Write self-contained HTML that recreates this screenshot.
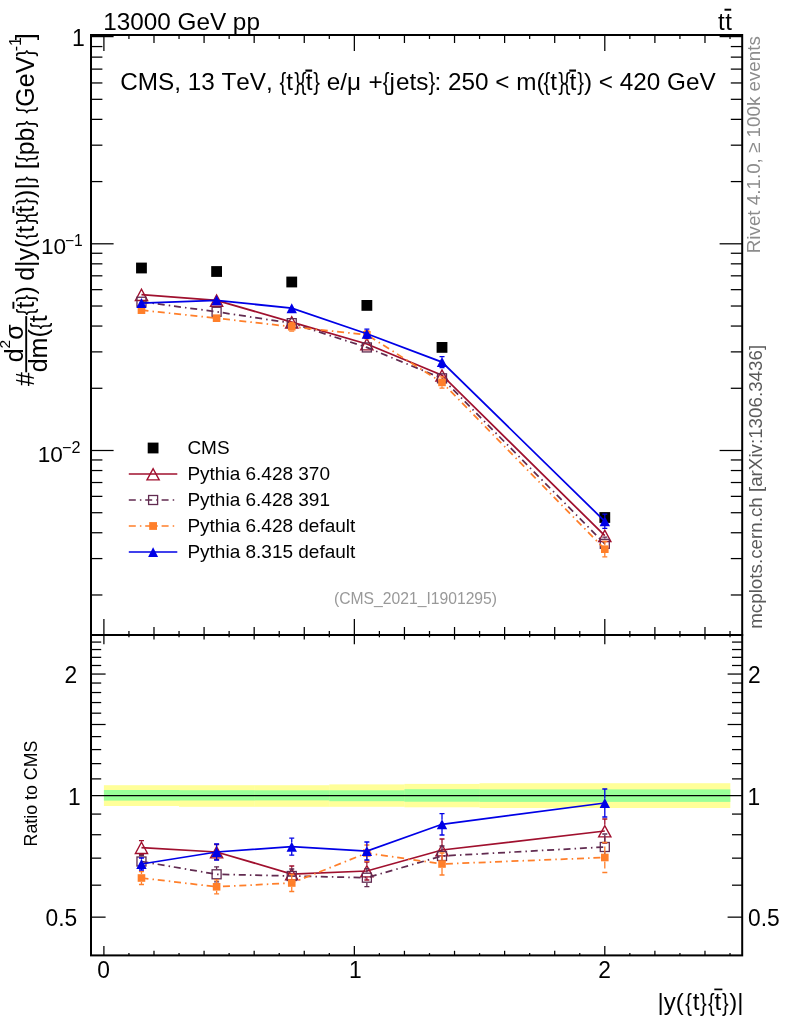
<!DOCTYPE html>
<html lang="en"><head><meta charset="utf-8"><title>CMS ttbar plot</title>
<style>html,body{margin:0;padding:0;background:#fff}svg{display:block}text{font-family:"Liberation Sans", "DejaVu Sans", sans-serif;}</style></head><body>
<svg width="786" height="1024" viewBox="0 0 786 1024">
<rect x="0" y="0" width="786" height="1024" fill="#fff"/>
<rect x="103.90" y="785.2" width="75.43" height="20.80" fill="#FFFF99"/>
<rect x="179.03" y="785.2" width="75.43" height="21.60" fill="#FFFF99"/>
<rect x="254.17" y="785.2" width="75.44" height="21.60" fill="#FFFF99"/>
<rect x="329.31" y="784.4" width="75.43" height="22.40" fill="#FFFF99"/>
<rect x="404.44" y="783.9" width="75.43" height="23.40" fill="#FFFF99"/>
<rect x="479.57" y="783.2" width="250.75" height="24.80" fill="#FFFF99"/>
<rect x="103.90" y="790.0" width="75.43" height="10.60" fill="#99FF99"/>
<rect x="179.03" y="790.2" width="75.43" height="10.30" fill="#99FF99"/>
<rect x="254.17" y="790.3" width="75.44" height="10.10" fill="#99FF99"/>
<rect x="329.31" y="790.3" width="75.43" height="10.90" fill="#99FF99"/>
<rect x="404.44" y="789.2" width="75.43" height="12.50" fill="#99FF99"/>
<rect x="479.57" y="789.4" width="250.75" height="12.50" fill="#99FF99"/>
<line x1="91.00" y1="795.60" x2="742.20" y2="795.60" stroke="#000" stroke-width="1.4" />
<rect x="91.0" y="35.0" width="651.2" height="600.0" fill="none" stroke="#000" stroke-width="2"/>
<rect x="91.0" y="635.0" width="651.2" height="320.4" fill="none" stroke="#000" stroke-width="2"/>
<line x1="91.00" y1="36.60" x2="113.60" y2="36.60" stroke="#000" stroke-width="1.25" />
<line x1="742.20" y1="36.60" x2="719.60" y2="36.60" stroke="#000" stroke-width="1.25" />
<line x1="91.00" y1="243.80" x2="113.60" y2="243.80" stroke="#000" stroke-width="1.25" />
<line x1="742.20" y1="243.80" x2="719.60" y2="243.80" stroke="#000" stroke-width="1.25" />
<line x1="91.00" y1="181.58" x2="102.40" y2="181.58" stroke="#000" stroke-width="1.25" />
<line x1="742.20" y1="181.58" x2="730.80" y2="181.58" stroke="#000" stroke-width="1.25" />
<line x1="91.00" y1="145.18" x2="102.40" y2="145.18" stroke="#000" stroke-width="1.25" />
<line x1="742.20" y1="145.18" x2="730.80" y2="145.18" stroke="#000" stroke-width="1.25" />
<line x1="91.00" y1="119.35" x2="102.40" y2="119.35" stroke="#000" stroke-width="1.25" />
<line x1="742.20" y1="119.35" x2="730.80" y2="119.35" stroke="#000" stroke-width="1.25" />
<line x1="91.00" y1="99.32" x2="102.40" y2="99.32" stroke="#000" stroke-width="1.25" />
<line x1="742.20" y1="99.32" x2="730.80" y2="99.32" stroke="#000" stroke-width="1.25" />
<line x1="91.00" y1="82.96" x2="102.40" y2="82.96" stroke="#000" stroke-width="1.25" />
<line x1="742.20" y1="82.96" x2="730.80" y2="82.96" stroke="#000" stroke-width="1.25" />
<line x1="91.00" y1="69.12" x2="102.40" y2="69.12" stroke="#000" stroke-width="1.25" />
<line x1="742.20" y1="69.12" x2="730.80" y2="69.12" stroke="#000" stroke-width="1.25" />
<line x1="91.00" y1="57.13" x2="102.40" y2="57.13" stroke="#000" stroke-width="1.25" />
<line x1="742.20" y1="57.13" x2="730.80" y2="57.13" stroke="#000" stroke-width="1.25" />
<line x1="91.00" y1="46.56" x2="102.40" y2="46.56" stroke="#000" stroke-width="1.25" />
<line x1="742.20" y1="46.56" x2="730.80" y2="46.56" stroke="#000" stroke-width="1.25" />
<line x1="91.00" y1="450.50" x2="113.60" y2="450.50" stroke="#000" stroke-width="1.25" />
<line x1="742.20" y1="450.50" x2="719.60" y2="450.50" stroke="#000" stroke-width="1.25" />
<line x1="91.00" y1="388.28" x2="102.40" y2="388.28" stroke="#000" stroke-width="1.25" />
<line x1="742.20" y1="388.28" x2="730.80" y2="388.28" stroke="#000" stroke-width="1.25" />
<line x1="91.00" y1="351.88" x2="102.40" y2="351.88" stroke="#000" stroke-width="1.25" />
<line x1="742.20" y1="351.88" x2="730.80" y2="351.88" stroke="#000" stroke-width="1.25" />
<line x1="91.00" y1="326.05" x2="102.40" y2="326.05" stroke="#000" stroke-width="1.25" />
<line x1="742.20" y1="326.05" x2="730.80" y2="326.05" stroke="#000" stroke-width="1.25" />
<line x1="91.00" y1="306.02" x2="102.40" y2="306.02" stroke="#000" stroke-width="1.25" />
<line x1="742.20" y1="306.02" x2="730.80" y2="306.02" stroke="#000" stroke-width="1.25" />
<line x1="91.00" y1="289.66" x2="102.40" y2="289.66" stroke="#000" stroke-width="1.25" />
<line x1="742.20" y1="289.66" x2="730.80" y2="289.66" stroke="#000" stroke-width="1.25" />
<line x1="91.00" y1="275.82" x2="102.40" y2="275.82" stroke="#000" stroke-width="1.25" />
<line x1="742.20" y1="275.82" x2="730.80" y2="275.82" stroke="#000" stroke-width="1.25" />
<line x1="91.00" y1="263.83" x2="102.40" y2="263.83" stroke="#000" stroke-width="1.25" />
<line x1="742.20" y1="263.83" x2="730.80" y2="263.83" stroke="#000" stroke-width="1.25" />
<line x1="91.00" y1="253.26" x2="102.40" y2="253.26" stroke="#000" stroke-width="1.25" />
<line x1="742.20" y1="253.26" x2="730.80" y2="253.26" stroke="#000" stroke-width="1.25" />
<line x1="91.00" y1="594.98" x2="102.40" y2="594.98" stroke="#000" stroke-width="1.25" />
<line x1="742.20" y1="594.98" x2="730.80" y2="594.98" stroke="#000" stroke-width="1.25" />
<line x1="91.00" y1="558.58" x2="102.40" y2="558.58" stroke="#000" stroke-width="1.25" />
<line x1="742.20" y1="558.58" x2="730.80" y2="558.58" stroke="#000" stroke-width="1.25" />
<line x1="91.00" y1="532.75" x2="102.40" y2="532.75" stroke="#000" stroke-width="1.25" />
<line x1="742.20" y1="532.75" x2="730.80" y2="532.75" stroke="#000" stroke-width="1.25" />
<line x1="91.00" y1="512.72" x2="102.40" y2="512.72" stroke="#000" stroke-width="1.25" />
<line x1="742.20" y1="512.72" x2="730.80" y2="512.72" stroke="#000" stroke-width="1.25" />
<line x1="91.00" y1="496.36" x2="102.40" y2="496.36" stroke="#000" stroke-width="1.25" />
<line x1="742.20" y1="496.36" x2="730.80" y2="496.36" stroke="#000" stroke-width="1.25" />
<line x1="91.00" y1="482.52" x2="102.40" y2="482.52" stroke="#000" stroke-width="1.25" />
<line x1="742.20" y1="482.52" x2="730.80" y2="482.52" stroke="#000" stroke-width="1.25" />
<line x1="91.00" y1="470.53" x2="102.40" y2="470.53" stroke="#000" stroke-width="1.25" />
<line x1="742.20" y1="470.53" x2="730.80" y2="470.53" stroke="#000" stroke-width="1.25" />
<line x1="91.00" y1="459.96" x2="102.40" y2="459.96" stroke="#000" stroke-width="1.25" />
<line x1="742.20" y1="459.96" x2="730.80" y2="459.96" stroke="#000" stroke-width="1.25" />
<line x1="103.90" y1="35.00" x2="103.90" y2="51.00" stroke="#000" stroke-width="1.25" />
<line x1="103.90" y1="619.00" x2="103.90" y2="644.30" stroke="#000" stroke-width="1.25" />
<line x1="103.90" y1="955.40" x2="103.90" y2="946.10" stroke="#000" stroke-width="1.25" />
<line x1="128.94" y1="35.00" x2="128.94" y2="39.00" stroke="#000" stroke-width="1.25" />
<line x1="128.94" y1="631.00" x2="128.94" y2="637.30" stroke="#000" stroke-width="1.25" />
<line x1="128.94" y1="955.40" x2="128.94" y2="953.10" stroke="#000" stroke-width="1.25" />
<line x1="153.99" y1="35.00" x2="153.99" y2="43.00" stroke="#000" stroke-width="1.25" />
<line x1="153.99" y1="627.00" x2="153.99" y2="639.60" stroke="#000" stroke-width="1.25" />
<line x1="153.99" y1="955.40" x2="153.99" y2="950.80" stroke="#000" stroke-width="1.25" />
<line x1="179.04" y1="35.00" x2="179.04" y2="39.00" stroke="#000" stroke-width="1.25" />
<line x1="179.04" y1="631.00" x2="179.04" y2="637.30" stroke="#000" stroke-width="1.25" />
<line x1="179.04" y1="955.40" x2="179.04" y2="953.10" stroke="#000" stroke-width="1.25" />
<line x1="204.08" y1="35.00" x2="204.08" y2="43.00" stroke="#000" stroke-width="1.25" />
<line x1="204.08" y1="627.00" x2="204.08" y2="639.60" stroke="#000" stroke-width="1.25" />
<line x1="204.08" y1="955.40" x2="204.08" y2="950.80" stroke="#000" stroke-width="1.25" />
<line x1="229.12" y1="35.00" x2="229.12" y2="39.00" stroke="#000" stroke-width="1.25" />
<line x1="229.12" y1="631.00" x2="229.12" y2="637.30" stroke="#000" stroke-width="1.25" />
<line x1="229.12" y1="955.40" x2="229.12" y2="953.10" stroke="#000" stroke-width="1.25" />
<line x1="254.17" y1="35.00" x2="254.17" y2="43.00" stroke="#000" stroke-width="1.25" />
<line x1="254.17" y1="627.00" x2="254.17" y2="639.60" stroke="#000" stroke-width="1.25" />
<line x1="254.17" y1="955.40" x2="254.17" y2="950.80" stroke="#000" stroke-width="1.25" />
<line x1="279.22" y1="35.00" x2="279.22" y2="39.00" stroke="#000" stroke-width="1.25" />
<line x1="279.22" y1="631.00" x2="279.22" y2="637.30" stroke="#000" stroke-width="1.25" />
<line x1="279.22" y1="955.40" x2="279.22" y2="953.10" stroke="#000" stroke-width="1.25" />
<line x1="304.26" y1="35.00" x2="304.26" y2="43.00" stroke="#000" stroke-width="1.25" />
<line x1="304.26" y1="627.00" x2="304.26" y2="639.60" stroke="#000" stroke-width="1.25" />
<line x1="304.26" y1="955.40" x2="304.26" y2="950.80" stroke="#000" stroke-width="1.25" />
<line x1="329.31" y1="35.00" x2="329.31" y2="39.00" stroke="#000" stroke-width="1.25" />
<line x1="329.31" y1="631.00" x2="329.31" y2="637.30" stroke="#000" stroke-width="1.25" />
<line x1="329.31" y1="955.40" x2="329.31" y2="953.10" stroke="#000" stroke-width="1.25" />
<line x1="354.35" y1="35.00" x2="354.35" y2="51.00" stroke="#000" stroke-width="1.25" />
<line x1="354.35" y1="619.00" x2="354.35" y2="644.30" stroke="#000" stroke-width="1.25" />
<line x1="354.35" y1="955.40" x2="354.35" y2="946.10" stroke="#000" stroke-width="1.25" />
<line x1="379.39" y1="35.00" x2="379.39" y2="39.00" stroke="#000" stroke-width="1.25" />
<line x1="379.39" y1="631.00" x2="379.39" y2="637.30" stroke="#000" stroke-width="1.25" />
<line x1="379.39" y1="955.40" x2="379.39" y2="953.10" stroke="#000" stroke-width="1.25" />
<line x1="404.44" y1="35.00" x2="404.44" y2="43.00" stroke="#000" stroke-width="1.25" />
<line x1="404.44" y1="627.00" x2="404.44" y2="639.60" stroke="#000" stroke-width="1.25" />
<line x1="404.44" y1="955.40" x2="404.44" y2="950.80" stroke="#000" stroke-width="1.25" />
<line x1="429.49" y1="35.00" x2="429.49" y2="39.00" stroke="#000" stroke-width="1.25" />
<line x1="429.49" y1="631.00" x2="429.49" y2="637.30" stroke="#000" stroke-width="1.25" />
<line x1="429.49" y1="955.40" x2="429.49" y2="953.10" stroke="#000" stroke-width="1.25" />
<line x1="454.53" y1="35.00" x2="454.53" y2="43.00" stroke="#000" stroke-width="1.25" />
<line x1="454.53" y1="627.00" x2="454.53" y2="639.60" stroke="#000" stroke-width="1.25" />
<line x1="454.53" y1="955.40" x2="454.53" y2="950.80" stroke="#000" stroke-width="1.25" />
<line x1="479.57" y1="35.00" x2="479.57" y2="39.00" stroke="#000" stroke-width="1.25" />
<line x1="479.57" y1="631.00" x2="479.57" y2="637.30" stroke="#000" stroke-width="1.25" />
<line x1="479.57" y1="955.40" x2="479.57" y2="953.10" stroke="#000" stroke-width="1.25" />
<line x1="504.62" y1="35.00" x2="504.62" y2="43.00" stroke="#000" stroke-width="1.25" />
<line x1="504.62" y1="627.00" x2="504.62" y2="639.60" stroke="#000" stroke-width="1.25" />
<line x1="504.62" y1="955.40" x2="504.62" y2="950.80" stroke="#000" stroke-width="1.25" />
<line x1="529.67" y1="35.00" x2="529.67" y2="39.00" stroke="#000" stroke-width="1.25" />
<line x1="529.67" y1="631.00" x2="529.67" y2="637.30" stroke="#000" stroke-width="1.25" />
<line x1="529.67" y1="955.40" x2="529.67" y2="953.10" stroke="#000" stroke-width="1.25" />
<line x1="554.71" y1="35.00" x2="554.71" y2="43.00" stroke="#000" stroke-width="1.25" />
<line x1="554.71" y1="627.00" x2="554.71" y2="639.60" stroke="#000" stroke-width="1.25" />
<line x1="554.71" y1="955.40" x2="554.71" y2="950.80" stroke="#000" stroke-width="1.25" />
<line x1="579.75" y1="35.00" x2="579.75" y2="39.00" stroke="#000" stroke-width="1.25" />
<line x1="579.75" y1="631.00" x2="579.75" y2="637.30" stroke="#000" stroke-width="1.25" />
<line x1="579.75" y1="955.40" x2="579.75" y2="953.10" stroke="#000" stroke-width="1.25" />
<line x1="604.80" y1="35.00" x2="604.80" y2="51.00" stroke="#000" stroke-width="1.25" />
<line x1="604.80" y1="619.00" x2="604.80" y2="644.30" stroke="#000" stroke-width="1.25" />
<line x1="604.80" y1="955.40" x2="604.80" y2="946.10" stroke="#000" stroke-width="1.25" />
<line x1="629.85" y1="35.00" x2="629.85" y2="39.00" stroke="#000" stroke-width="1.25" />
<line x1="629.85" y1="631.00" x2="629.85" y2="637.30" stroke="#000" stroke-width="1.25" />
<line x1="629.85" y1="955.40" x2="629.85" y2="953.10" stroke="#000" stroke-width="1.25" />
<line x1="654.89" y1="35.00" x2="654.89" y2="43.00" stroke="#000" stroke-width="1.25" />
<line x1="654.89" y1="627.00" x2="654.89" y2="639.60" stroke="#000" stroke-width="1.25" />
<line x1="654.89" y1="955.40" x2="654.89" y2="950.80" stroke="#000" stroke-width="1.25" />
<line x1="679.94" y1="35.00" x2="679.94" y2="39.00" stroke="#000" stroke-width="1.25" />
<line x1="679.94" y1="631.00" x2="679.94" y2="637.30" stroke="#000" stroke-width="1.25" />
<line x1="679.94" y1="955.40" x2="679.94" y2="953.10" stroke="#000" stroke-width="1.25" />
<line x1="704.98" y1="35.00" x2="704.98" y2="43.00" stroke="#000" stroke-width="1.25" />
<line x1="704.98" y1="627.00" x2="704.98" y2="639.60" stroke="#000" stroke-width="1.25" />
<line x1="704.98" y1="955.40" x2="704.98" y2="950.80" stroke="#000" stroke-width="1.25" />
<line x1="730.02" y1="35.00" x2="730.02" y2="39.00" stroke="#000" stroke-width="1.25" />
<line x1="730.02" y1="631.00" x2="730.02" y2="637.30" stroke="#000" stroke-width="1.25" />
<line x1="730.02" y1="955.40" x2="730.02" y2="953.10" stroke="#000" stroke-width="1.25" />
<line x1="91.00" y1="917.15" x2="105.60" y2="917.15" stroke="#000" stroke-width="1.25" />
<line x1="742.20" y1="917.15" x2="727.60" y2="917.15" stroke="#000" stroke-width="1.25" />
<line x1="91.00" y1="885.18" x2="101.20" y2="885.18" stroke="#000" stroke-width="1.25" />
<line x1="742.20" y1="885.18" x2="732.00" y2="885.18" stroke="#000" stroke-width="1.25" />
<line x1="91.00" y1="858.15" x2="101.20" y2="858.15" stroke="#000" stroke-width="1.25" />
<line x1="742.20" y1="858.15" x2="732.00" y2="858.15" stroke="#000" stroke-width="1.25" />
<line x1="91.00" y1="834.73" x2="101.20" y2="834.73" stroke="#000" stroke-width="1.25" />
<line x1="742.20" y1="834.73" x2="732.00" y2="834.73" stroke="#000" stroke-width="1.25" />
<line x1="91.00" y1="814.08" x2="101.20" y2="814.08" stroke="#000" stroke-width="1.25" />
<line x1="742.20" y1="814.08" x2="732.00" y2="814.08" stroke="#000" stroke-width="1.25" />
<line x1="91.00" y1="778.89" x2="101.20" y2="778.89" stroke="#000" stroke-width="1.25" />
<line x1="742.20" y1="778.89" x2="732.00" y2="778.89" stroke="#000" stroke-width="1.25" />
<line x1="91.00" y1="763.63" x2="101.20" y2="763.63" stroke="#000" stroke-width="1.25" />
<line x1="742.20" y1="763.63" x2="732.00" y2="763.63" stroke="#000" stroke-width="1.25" />
<line x1="91.00" y1="749.59" x2="101.20" y2="749.59" stroke="#000" stroke-width="1.25" />
<line x1="742.20" y1="749.59" x2="732.00" y2="749.59" stroke="#000" stroke-width="1.25" />
<line x1="91.00" y1="736.60" x2="101.20" y2="736.60" stroke="#000" stroke-width="1.25" />
<line x1="742.20" y1="736.60" x2="732.00" y2="736.60" stroke="#000" stroke-width="1.25" />
<line x1="91.00" y1="724.50" x2="105.60" y2="724.50" stroke="#000" stroke-width="1.25" />
<line x1="742.20" y1="724.50" x2="727.60" y2="724.50" stroke="#000" stroke-width="1.25" />
<line x1="91.00" y1="713.18" x2="101.20" y2="713.18" stroke="#000" stroke-width="1.25" />
<line x1="742.20" y1="713.18" x2="732.00" y2="713.18" stroke="#000" stroke-width="1.25" />
<line x1="91.00" y1="702.55" x2="101.20" y2="702.55" stroke="#000" stroke-width="1.25" />
<line x1="742.20" y1="702.55" x2="732.00" y2="702.55" stroke="#000" stroke-width="1.25" />
<line x1="91.00" y1="692.53" x2="101.20" y2="692.53" stroke="#000" stroke-width="1.25" />
<line x1="742.20" y1="692.53" x2="732.00" y2="692.53" stroke="#000" stroke-width="1.25" />
<line x1="91.00" y1="683.04" x2="101.20" y2="683.04" stroke="#000" stroke-width="1.25" />
<line x1="742.20" y1="683.04" x2="732.00" y2="683.04" stroke="#000" stroke-width="1.25" />
<line x1="91.00" y1="674.05" x2="105.60" y2="674.05" stroke="#000" stroke-width="1.25" />
<line x1="742.20" y1="674.05" x2="727.60" y2="674.05" stroke="#000" stroke-width="1.25" />
<line x1="91.00" y1="665.49" x2="101.20" y2="665.49" stroke="#000" stroke-width="1.25" />
<line x1="742.20" y1="665.49" x2="732.00" y2="665.49" stroke="#000" stroke-width="1.25" />
<line x1="91.00" y1="657.34" x2="101.20" y2="657.34" stroke="#000" stroke-width="1.25" />
<line x1="742.20" y1="657.34" x2="732.00" y2="657.34" stroke="#000" stroke-width="1.25" />
<line x1="91.00" y1="649.54" x2="101.20" y2="649.54" stroke="#000" stroke-width="1.25" />
<line x1="742.20" y1="649.54" x2="732.00" y2="649.54" stroke="#000" stroke-width="1.25" />
<line x1="91.00" y1="642.08" x2="101.20" y2="642.08" stroke="#000" stroke-width="1.25" />
<line x1="742.20" y1="642.08" x2="732.00" y2="642.08" stroke="#000" stroke-width="1.25" />
<text transform="translate(103.60,978.30) scale(1,1.08)" font-size="22.8" text-anchor="middle">0</text>
<text transform="translate(355.25,978.30) scale(1,1.08)" font-size="22.8" text-anchor="middle">1</text>
<text transform="translate(604.50,978.30) scale(1,1.08)" font-size="22.8" text-anchor="middle">2</text>
<text transform="translate(77.20,683.05) scale(1,1.08)" font-size="22.8" text-anchor="end">2</text>
<text transform="translate(748.00,683.05) scale(1,1.08)" font-size="22.8" text-anchor="start">2</text>
<text transform="translate(80.60,804.60) scale(1,1.08)" font-size="22.8" text-anchor="end">1</text>
<text transform="translate(747.60,804.60) scale(1,1.08)" font-size="22.8" text-anchor="start">1</text>
<text transform="translate(77.20,926.15) scale(1,1.08)" font-size="22.8" text-anchor="end">0.5</text>
<text transform="translate(748.00,926.15) scale(1,1.08)" font-size="22.8" text-anchor="start">0.5</text>
<text x="71.90" y="45.80" font-size="23" text-anchor="start" fill="#000" >1</text>
<text x="41.0" y="254.3" font-size="22.6">10<tspan font-size="15.6" dx="-1.2" dy="-8.6">−1</tspan></text>
<text x="37.8" y="462.3" font-size="22.6">10<tspan font-size="16.2" dx="-0.9" dy="-9.8">−2</tspan></text>
<text x="103.20" y="29.50" font-size="24.3" text-anchor="start" fill="#000" >13000 GeV pp</text>
<text x="718.00" y="29.50" font-size="24" text-anchor="start" fill="#000" >t</text>
<text x="725.30" y="29.50" font-size="24" text-anchor="start" fill="#000" >t</text>
<line x1="724.50" y1="9.70" x2="731.20" y2="9.70" stroke="#000" stroke-width="2.0" />
<g transform="translate(33.7,386.0) rotate(-90)">
<text x="0.00" y="0.00" font-size="25">#</text>
<line x1="13.70" y1="-7.5" x2="69.90" y2="-7.5" stroke="#000" stroke-width="1.9"/>
<text x="23.7" y="-11.2" font-size="25">d<tspan font-size="15.5" dy="-12.7">2</tspan><tspan dy="12.7">σ</tspan></text>
<text x="13.70 27.60 48.43 63.70" y="13.70" font-size="25">dm(t</text>
<text transform="scale(0.82,1)" x="69.37" y="13.40" font-size="24.5">{</text>
<text x="77.52 91.42 98.24 105.19 119.09 125.58 138.08 153.36 173.31 188.10 196.43 209.87 216.82 230.71 244.62 265.47 279.37 298.81 312.72" y="0.00" font-size="25">t) d|y(tt)| [pb GeV</text>
<text transform="scale(0.82,1)" x="86.22 103.17 178.71 197.24 204.13 221.08 247.63 273.04 315.43 332.37 401.86" y="-0.30" font-size="24.5">{}{}{}}{}{}</text>
<text x="334.74" y="-12.7" font-size="16">-1</text>
<text x="345.86" y="0" font-size="25">]</text>
<line x1="77.22" y1="-20.3" x2="84.22" y2="-20.3" stroke="#000" stroke-width="1.9"/>
<line x1="173.01" y1="-20.3" x2="180.01" y2="-20.3" stroke="#000" stroke-width="1.9"/>
</g>
<text x="120.20 137.75 157.99 174.20 180.95 187.70 201.22 214.73 221.48 236.33 249.84 266.05 272.80 286.31 305.67 320.07 326.83 340.34 347.09 361.09 368.54 389.49 395.99 409.50 416.25 434.56 441.31 448.06 461.58 475.09 488.61 495.36 509.55 516.30 536.54 550.19 569.55 583.96 592.05 598.80 612.99 619.74 633.26 646.77 660.29 667.04 685.94 699.45" y="90.10" font-size="24.3">CMS, 13 TeV, tt e/μ +jets: 250 &lt; m(tt) &lt; 420 GeV</text>
<text transform="scale(0.85,1)" x="328.89 346.32 352.73 368.63 450.29 504.02 639.34 656.77 663.18 679.08" y="90.40" font-size="23.8">{}{}{}{}{}</text>
<line x1="305.37" y1="70.6" x2="312.17" y2="70.6" stroke="#000" stroke-width="2.2"/>
<line x1="569.25" y1="70.6" x2="576.05" y2="70.6" stroke="#000" stroke-width="2.2"/>
<text x="657.60 663.83 675.83 692.64 714.54 729.23 737.22" y="1010.40" font-size="24">|y(tt)|</text>
<text transform="scale(0.85,1)" x="806.25 823.53 832.95 849.29" y="1010.60" font-size="23.5">{}{}</text>
<line x1="714.3" y1="989.4" x2="722.4" y2="989.4" stroke="#000" stroke-width="1.7"/>
<rect x="136.07" y="262.60" width="10.8" height="10.8" fill="#000"/>
<rect x="211.20" y="266.10" width="10.8" height="10.8" fill="#000"/>
<rect x="286.34" y="276.60" width="10.8" height="10.8" fill="#000"/>
<rect x="361.47" y="300.00" width="10.8" height="10.8" fill="#000"/>
<rect x="436.61" y="342.00" width="10.8" height="10.8" fill="#000"/>
<rect x="599.40" y="512.10" width="10.8" height="10.8" fill="#000"/>
<polyline points="141.47,294.62 216.60,300.37 291.74,322.13 366.87,344.00 442.01,375.25 604.80,535.62" fill="none" stroke="#A0102E" stroke-width="1.75" />
<path d="M135.37 300.52 L141.47 289.22 L147.57 300.52 Z" fill="none" stroke="#A0102E" stroke-width="1.4" stroke-linejoin="miter"/>
<path d="M210.50 306.27 L216.60 294.97 L222.70 306.27 Z" fill="none" stroke="#A0102E" stroke-width="1.4" stroke-linejoin="miter"/>
<path d="M285.64 328.03 L291.74 316.73 L297.84 328.03 Z" fill="none" stroke="#A0102E" stroke-width="1.4" stroke-linejoin="miter"/>
<path d="M360.77 349.90 L366.87 338.60 L372.97 349.90 Z" fill="none" stroke="#A0102E" stroke-width="1.4" stroke-linejoin="miter"/>
<path d="M435.91 381.15 L442.01 369.85 L448.11 381.15 Z" fill="none" stroke="#A0102E" stroke-width="1.4" stroke-linejoin="miter"/>
<path d="M598.70 541.52 L604.80 530.22 L610.90 541.52 Z" fill="none" stroke="#A0102E" stroke-width="1.4" stroke-linejoin="miter"/>
<polyline points="141.47,301.73 216.60,311.79 291.74,323.16 366.87,347.43 442.01,378.32 604.80,543.81" fill="none" stroke="#612B50" stroke-width="1.75" stroke-dasharray="7 4.1 1.5 3.8"/>
<path d="M604.80 538.61 V537.16 M604.80 549.01 V550.47" fill="none" stroke="#612B50" stroke-width="1.3" stroke-dasharray="7 4.1 1.5 3.8"/>
<path d="M602.30 537.16 H607.30 M602.30 550.47 H607.30" fill="none" stroke="#612B50" stroke-width="1.3"/>
<rect x="136.97" y="297.23" width="9.0" height="9.0" fill="none" stroke="#612B50" stroke-width="1.3"/>
<rect x="212.10" y="307.29" width="9.0" height="9.0" fill="none" stroke="#612B50" stroke-width="1.3"/>
<rect x="287.24" y="318.66" width="9.0" height="9.0" fill="none" stroke="#612B50" stroke-width="1.3"/>
<rect x="362.37" y="342.93" width="9.0" height="9.0" fill="none" stroke="#612B50" stroke-width="1.3"/>
<rect x="437.51" y="373.82" width="9.0" height="9.0" fill="none" stroke="#612B50" stroke-width="1.3"/>
<rect x="600.30" y="539.31" width="9.0" height="9.0" fill="none" stroke="#612B50" stroke-width="1.3"/>
<polyline points="141.47,310.18 216.60,318.19 291.74,326.74 366.87,334.78 442.01,382.41 604.80,549.19" fill="none" stroke="#FF7F2A" stroke-width="1.75" stroke-dasharray="7 4.1 1.5 3.8"/>
<path d="M291.74 322.84 V322.39 M291.74 330.64 V331.09" fill="none" stroke="#FF7F2A" stroke-width="1.3" stroke-dasharray="7 4.1 1.5 3.8"/>
<path d="M289.24 322.39 H294.24 M289.24 331.09 H294.24" fill="none" stroke="#FF7F2A" stroke-width="1.3"/>
<path d="M366.87 330.88 V330.69 M366.87 338.68 V338.88" fill="none" stroke="#FF7F2A" stroke-width="1.3" stroke-dasharray="7 4.1 1.5 3.8"/>
<path d="M364.37 330.69 H369.37 M364.37 338.88 H369.37" fill="none" stroke="#FF7F2A" stroke-width="1.3"/>
<path d="M442.01 378.51 V376.78 M442.01 386.31 V388.05" fill="none" stroke="#FF7F2A" stroke-width="1.3" stroke-dasharray="7 4.1 1.5 3.8"/>
<path d="M439.51 376.78 H444.51 M439.51 388.05 H444.51" fill="none" stroke="#FF7F2A" stroke-width="1.3"/>
<path d="M604.80 545.29 V541.51 M604.80 553.09 V556.87" fill="none" stroke="#FF7F2A" stroke-width="1.3" stroke-dasharray="7 4.1 1.5 3.8"/>
<path d="M602.30 541.51 H607.30 M602.30 556.87 H607.30" fill="none" stroke="#FF7F2A" stroke-width="1.3"/>
<rect x="137.67" y="306.38" width="7.6" height="7.6" fill="#FF7F2A"/>
<rect x="212.80" y="314.39" width="7.6" height="7.6" fill="#FF7F2A"/>
<rect x="287.94" y="322.94" width="7.6" height="7.6" fill="#FF7F2A"/>
<rect x="363.07" y="330.98" width="7.6" height="7.6" fill="#FF7F2A"/>
<rect x="438.21" y="378.61" width="7.6" height="7.6" fill="#FF7F2A"/>
<rect x="601.00" y="545.39" width="7.6" height="7.6" fill="#FF7F2A"/>
<polyline points="141.47,303.01 216.60,300.37 291.74,308.16 366.87,333.76 442.01,362.09 604.80,521.29" fill="none" stroke="#0000E6" stroke-width="1.75" />
<path d="M366.87 329.26 V329.15 M366.87 338.26 V338.37" fill="none" stroke="#0000E6" stroke-width="1.3" />
<path d="M364.37 329.15 H369.37 M364.37 338.37 H369.37" fill="none" stroke="#0000E6" stroke-width="1.3"/>
<path d="M442.01 357.59 V356.61 M442.01 366.59 V367.57" fill="none" stroke="#0000E6" stroke-width="1.3" />
<path d="M439.51 356.61 H444.51 M439.51 367.57 H444.51" fill="none" stroke="#0000E6" stroke-width="1.3"/>
<path d="M604.80 516.79 V514.12 M604.80 525.79 V528.45" fill="none" stroke="#0000E6" stroke-width="1.3" />
<path d="M602.30 514.12 H607.30 M602.30 528.45 H607.30" fill="none" stroke="#0000E6" stroke-width="1.3"/>
<path d="M136.27 308.01 L141.47 298.01 L146.67 308.01 Z" fill="#0000E6"/>
<path d="M211.40 305.37 L216.60 295.37 L221.80 305.37 Z" fill="#0000E6"/>
<path d="M286.54 313.16 L291.74 303.16 L296.94 313.16 Z" fill="#0000E6"/>
<path d="M361.67 338.76 L366.87 328.76 L372.07 338.76 Z" fill="#0000E6"/>
<path d="M436.81 367.09 L442.01 357.09 L447.21 367.09 Z" fill="#0000E6"/>
<path d="M599.60 526.29 L604.80 516.29 L610.00 526.29 Z" fill="#0000E6"/>
<polyline points="141.47,847.60 216.60,852.00 291.74,874.00 366.87,871.00 442.01,850.00 604.80,831.00" fill="none" stroke="#A0102E" stroke-width="1.75" />
<path d="M141.47 841.40 V840.60 M141.47 853.80 V854.60" fill="none" stroke="#A0102E" stroke-width="1.3" />
<path d="M138.97 840.60 H143.97 M138.97 854.60 H143.97" fill="none" stroke="#A0102E" stroke-width="1.3"/>
<path d="M216.60 845.80 V844.50 M216.60 858.20 V859.50" fill="none" stroke="#A0102E" stroke-width="1.3" />
<path d="M214.10 844.50 H219.10 M214.10 859.50 H219.10" fill="none" stroke="#A0102E" stroke-width="1.3"/>
<path d="M291.74 867.80 V866.00 M291.74 880.20 V882.00" fill="none" stroke="#A0102E" stroke-width="1.3" />
<path d="M289.24 866.00 H294.24 M289.24 882.00 H294.24" fill="none" stroke="#A0102E" stroke-width="1.3"/>
<path d="M366.87 864.80 V862.00 M366.87 877.20 V880.00" fill="none" stroke="#A0102E" stroke-width="1.3" />
<path d="M364.37 862.00 H369.37 M364.37 880.00 H369.37" fill="none" stroke="#A0102E" stroke-width="1.3"/>
<path d="M442.01 843.80 V839.00 M442.01 856.20 V861.00" fill="none" stroke="#A0102E" stroke-width="1.3" />
<path d="M439.51 839.00 H444.51 M439.51 861.00 H444.51" fill="none" stroke="#A0102E" stroke-width="1.3"/>
<path d="M604.80 824.80 V819.00 M604.80 837.20 V843.00" fill="none" stroke="#A0102E" stroke-width="1.3" />
<path d="M602.30 819.00 H607.30 M602.30 843.00 H607.30" fill="none" stroke="#A0102E" stroke-width="1.3"/>
<path d="M135.37 853.50 L141.47 842.20 L147.57 853.50 Z" fill="none" stroke="#A0102E" stroke-width="1.4" stroke-linejoin="miter"/>
<path d="M210.50 857.90 L216.60 846.60 L222.70 857.90 Z" fill="none" stroke="#A0102E" stroke-width="1.4" stroke-linejoin="miter"/>
<path d="M285.64 879.90 L291.74 868.60 L297.84 879.90 Z" fill="none" stroke="#A0102E" stroke-width="1.4" stroke-linejoin="miter"/>
<path d="M360.77 876.90 L366.87 865.60 L372.97 876.90 Z" fill="none" stroke="#A0102E" stroke-width="1.4" stroke-linejoin="miter"/>
<path d="M435.91 855.90 L442.01 844.60 L448.11 855.90 Z" fill="none" stroke="#A0102E" stroke-width="1.4" stroke-linejoin="miter"/>
<path d="M598.70 836.90 L604.80 825.60 L610.90 836.90 Z" fill="none" stroke="#A0102E" stroke-width="1.4" stroke-linejoin="miter"/>
<polyline points="141.47,861.50 216.60,874.30 291.74,876.00 366.87,877.70 442.01,856.00 604.80,847.00" fill="none" stroke="#612B50" stroke-width="1.75" stroke-dasharray="7 4.1 1.5 3.8"/>
<path d="M141.47 856.30 V855.50 M141.47 866.70 V867.50" fill="none" stroke="#612B50" stroke-width="1.3" stroke-dasharray="7 4.1 1.5 3.8"/>
<path d="M138.97 855.50 H143.97 M138.97 867.50 H143.97" fill="none" stroke="#612B50" stroke-width="1.3"/>
<path d="M216.60 869.10 V866.80 M216.60 879.50 V881.80" fill="none" stroke="#612B50" stroke-width="1.3" stroke-dasharray="7 4.1 1.5 3.8"/>
<path d="M214.10 866.80 H219.10 M214.10 881.80 H219.10" fill="none" stroke="#612B50" stroke-width="1.3"/>
<path d="M291.74 870.80 V869.00 M291.74 881.20 V883.00" fill="none" stroke="#612B50" stroke-width="1.3" stroke-dasharray="7 4.1 1.5 3.8"/>
<path d="M289.24 869.00 H294.24 M289.24 883.00 H294.24" fill="none" stroke="#612B50" stroke-width="1.3"/>
<path d="M366.87 872.50 V868.70 M366.87 882.90 V886.70" fill="none" stroke="#612B50" stroke-width="1.3" stroke-dasharray="7 4.1 1.5 3.8"/>
<path d="M364.37 868.70 H369.37 M364.37 886.70 H369.37" fill="none" stroke="#612B50" stroke-width="1.3"/>
<path d="M442.01 850.80 V846.00 M442.01 861.20 V866.00" fill="none" stroke="#612B50" stroke-width="1.3" stroke-dasharray="7 4.1 1.5 3.8"/>
<path d="M439.51 846.00 H444.51 M439.51 866.00 H444.51" fill="none" stroke="#612B50" stroke-width="1.3"/>
<path d="M604.80 841.80 V834.00 M604.80 852.20 V860.00" fill="none" stroke="#612B50" stroke-width="1.3" stroke-dasharray="7 4.1 1.5 3.8"/>
<path d="M602.30 834.00 H607.30 M602.30 860.00 H607.30" fill="none" stroke="#612B50" stroke-width="1.3"/>
<rect x="136.97" y="857.00" width="9.0" height="9.0" fill="none" stroke="#612B50" stroke-width="1.3"/>
<rect x="212.10" y="869.80" width="9.0" height="9.0" fill="none" stroke="#612B50" stroke-width="1.3"/>
<rect x="287.24" y="871.50" width="9.0" height="9.0" fill="none" stroke="#612B50" stroke-width="1.3"/>
<rect x="362.37" y="873.20" width="9.0" height="9.0" fill="none" stroke="#612B50" stroke-width="1.3"/>
<rect x="437.51" y="851.50" width="9.0" height="9.0" fill="none" stroke="#612B50" stroke-width="1.3"/>
<rect x="600.30" y="842.50" width="9.0" height="9.0" fill="none" stroke="#612B50" stroke-width="1.3"/>
<polyline points="141.47,878.00 216.60,886.80 291.74,883.00 366.87,853.00 442.01,864.00 604.80,857.50" fill="none" stroke="#FF7F2A" stroke-width="1.75" stroke-dasharray="7 4.1 1.5 3.8"/>
<path d="M141.47 874.10 V871.50 M141.47 881.90 V884.50" fill="none" stroke="#FF7F2A" stroke-width="1.3" stroke-dasharray="7 4.1 1.5 3.8"/>
<path d="M138.97 871.50 H143.97 M138.97 884.50 H143.97" fill="none" stroke="#FF7F2A" stroke-width="1.3"/>
<path d="M216.60 882.90 V879.80 M216.60 890.70 V893.80" fill="none" stroke="#FF7F2A" stroke-width="1.3" stroke-dasharray="7 4.1 1.5 3.8"/>
<path d="M214.10 879.80 H219.10 M214.10 893.80 H219.10" fill="none" stroke="#FF7F2A" stroke-width="1.3"/>
<path d="M291.74 879.10 V874.50 M291.74 886.90 V891.50" fill="none" stroke="#FF7F2A" stroke-width="1.3" stroke-dasharray="7 4.1 1.5 3.8"/>
<path d="M289.24 874.50 H294.24 M289.24 891.50 H294.24" fill="none" stroke="#FF7F2A" stroke-width="1.3"/>
<path d="M366.87 849.10 V845.00 M366.87 856.90 V861.00" fill="none" stroke="#FF7F2A" stroke-width="1.3" stroke-dasharray="7 4.1 1.5 3.8"/>
<path d="M364.37 845.00 H369.37 M364.37 861.00 H369.37" fill="none" stroke="#FF7F2A" stroke-width="1.3"/>
<path d="M442.01 860.10 V853.00 M442.01 867.90 V875.00" fill="none" stroke="#FF7F2A" stroke-width="1.3" stroke-dasharray="7 4.1 1.5 3.8"/>
<path d="M439.51 853.00 H444.51 M439.51 875.00 H444.51" fill="none" stroke="#FF7F2A" stroke-width="1.3"/>
<path d="M604.80 853.60 V842.50 M604.80 861.40 V872.50" fill="none" stroke="#FF7F2A" stroke-width="1.3" stroke-dasharray="7 4.1 1.5 3.8"/>
<path d="M602.30 842.50 H607.30 M602.30 872.50 H607.30" fill="none" stroke="#FF7F2A" stroke-width="1.3"/>
<rect x="137.67" y="874.20" width="7.6" height="7.6" fill="#FF7F2A"/>
<rect x="212.80" y="883.00" width="7.6" height="7.6" fill="#FF7F2A"/>
<rect x="287.94" y="879.20" width="7.6" height="7.6" fill="#FF7F2A"/>
<rect x="363.07" y="849.20" width="7.6" height="7.6" fill="#FF7F2A"/>
<rect x="438.21" y="860.20" width="7.6" height="7.6" fill="#FF7F2A"/>
<rect x="601.00" y="853.70" width="7.6" height="7.6" fill="#FF7F2A"/>
<polyline points="141.47,864.00 216.60,852.00 291.74,846.70 366.87,851.00 442.01,824.30 604.80,803.00" fill="none" stroke="#0000E6" stroke-width="1.75" />
<path d="M141.47 859.50 V858.00 M141.47 868.50 V870.00" fill="none" stroke="#0000E6" stroke-width="1.3" />
<path d="M138.97 858.00 H143.97 M138.97 870.00 H143.97" fill="none" stroke="#0000E6" stroke-width="1.3"/>
<path d="M216.60 847.50 V844.00 M216.60 856.50 V860.00" fill="none" stroke="#0000E6" stroke-width="1.3" />
<path d="M214.10 844.00 H219.10 M214.10 860.00 H219.10" fill="none" stroke="#0000E6" stroke-width="1.3"/>
<path d="M291.74 842.20 V838.20 M291.74 851.20 V855.20" fill="none" stroke="#0000E6" stroke-width="1.3" />
<path d="M289.24 838.20 H294.24 M289.24 855.20 H294.24" fill="none" stroke="#0000E6" stroke-width="1.3"/>
<path d="M366.87 846.50 V842.00 M366.87 855.50 V860.00" fill="none" stroke="#0000E6" stroke-width="1.3" />
<path d="M364.37 842.00 H369.37 M364.37 860.00 H369.37" fill="none" stroke="#0000E6" stroke-width="1.3"/>
<path d="M442.01 819.80 V813.60 M442.01 828.80 V835.00" fill="none" stroke="#0000E6" stroke-width="1.3" />
<path d="M439.51 813.60 H444.51 M439.51 835.00 H444.51" fill="none" stroke="#0000E6" stroke-width="1.3"/>
<path d="M604.80 798.50 V789.00 M604.80 807.50 V817.00" fill="none" stroke="#0000E6" stroke-width="1.3" />
<path d="M602.30 789.00 H607.30 M602.30 817.00 H607.30" fill="none" stroke="#0000E6" stroke-width="1.3"/>
<path d="M136.27 869.00 L141.47 859.00 L146.67 869.00 Z" fill="#0000E6"/>
<path d="M211.40 857.00 L216.60 847.00 L221.80 857.00 Z" fill="#0000E6"/>
<path d="M286.54 851.70 L291.74 841.70 L296.94 851.70 Z" fill="#0000E6"/>
<path d="M361.67 856.00 L366.87 846.00 L372.07 856.00 Z" fill="#0000E6"/>
<path d="M436.81 829.30 L442.01 819.30 L447.21 829.30 Z" fill="#0000E6"/>
<path d="M599.60 808.00 L604.80 798.00 L610.00 808.00 Z" fill="#0000E6"/>
<rect x="147.70" y="442.60" width="10.8" height="10.8" fill="#000"/>
<line x1="128.8" y1="474.0" x2="177.3" y2="474.0" stroke="#A0102E" stroke-width="1.5"/>
<path d="M147.00 479.90 L153.10 468.60 L159.20 479.90 Z" fill="none" stroke="#A0102E" stroke-width="1.4" stroke-linejoin="miter"/>
<line x1="128.8" y1="500.0" x2="177.3" y2="500.0" stroke="#612B50" stroke-width="1.5" stroke-dasharray="7 4.1 1.5 3.8"/>
<rect x="148.60" y="495.50" width="9.0" height="9.0" fill="none" stroke="#612B50" stroke-width="1.3"/>
<line x1="128.8" y1="526.0" x2="177.3" y2="526.0" stroke="#FF7F2A" stroke-width="1.5" stroke-dasharray="7 4.1 1.5 3.8"/>
<rect x="149.20" y="522.10" width="7.8" height="7.8" fill="#FF7F2A"/>
<line x1="128.8" y1="552.0" x2="177.3" y2="552.0" stroke="#0000E6" stroke-width="1.5"/>
<path d="M148.10 557.00 L153.10 547.20 L158.10 557.00 Z" fill="#0000E6"/>
<text x="187.4" y="454.40" font-size="19">CMS</text>
<text x="187.4" y="480.40" font-size="19">Pythia 6.428 370</text>
<text x="187.4" y="506.40" font-size="19">Pythia 6.428 391</text>
<text x="187.4" y="532.40" font-size="19">Pythia 6.428 default</text>
<text x="187.4" y="558.40" font-size="19">Pythia 8.315 default</text>
<text transform="translate(759.5,253.2) rotate(-90)" font-size="18.8" fill="#8c8c8c">Rivet 4.1.0, ≥ 100k events</text>
<text transform="translate(761.8,628.8) rotate(-90)" font-size="18.8" fill="#5a5a5a">mcplots.cern.ch [arXiv:1306.3436]</text>
<text x="415.5" y="604.2" font-size="15.7" text-anchor="middle" fill="#999">(CMS_2021_I1901295)</text>
<text transform="translate(36.8,846.4) rotate(-90) scale(1,1.03)" font-size="17.8" fill="#000">Ratio to CMS</text>
</svg></body></html>
